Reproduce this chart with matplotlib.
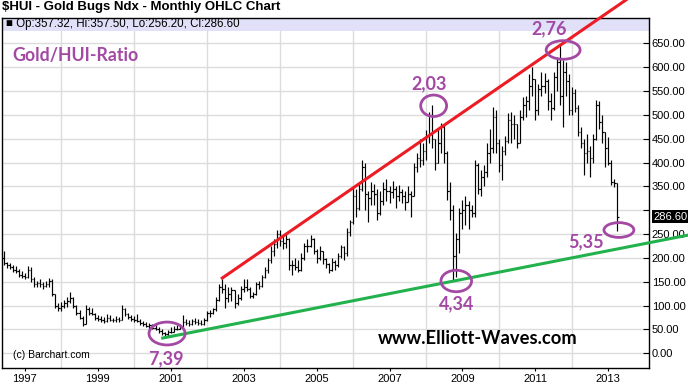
import numpy as np
import pandas as pd
import matplotlib
matplotlib.use("Agg")
import matplotlib.pyplot as plt
import matplotlib.transforms as mtransforms
from matplotlib.patches import Ellipse

# monthly HUI bars, Jun 1996 - Apr 2013 (each open = previous close)
first_open = 200.0
highs = [214, 192, 190, 186, 184, 176, 172,
         168, 183, 180, 160, 152, 155, 150, 152, 158, 155, 125, 105,
         108, 112, 118, 128, 118, 102, 90, 78, 102, 98, 95, 85,
         80, 78, 76, 82, 80, 75, 78, 76, 101, 95, 85, 80,
         78, 82, 72, 68, 66, 64, 62, 60, 56, 50, 45, 48,
         55, 58, 60, 62, 80, 72, 70, 72, 74, 72, 70, 74,
         88, 90, 96, 118, 145, 156, 145, 140, 138, 132, 125, 142,
         156, 155, 138, 128, 150, 152, 165, 180, 200, 225, 240, 258,
         259, 245, 250, 242, 195, 200, 195, 210, 232, 240, 248, 242,
         218, 225, 215, 200, 190, 200, 195, 210, 228, 225, 262, 280,
         348, 345, 355, 405, 400, 340, 360, 355, 345, 340, 360, 365,
         350, 362, 350, 352, 345, 340, 350, 340, 398, 420, 450, 440,
         468, 505, 520, 450, 470, 483, 480, 425, 359, 310, 252, 305,
         321, 330, 320, 310, 405, 400, 385, 395, 440, 470, 516, 510,
         450, 435, 455, 503, 505, 500, 480, 510, 537, 540, 585, 600,
         575, 565, 590, 587, 575, 545, 590, 621, 646, 615, 610, 585,
         558, 555, 520, 475, 450, 460, 435, 460, 531, 528, 500, 465,
         454, 405, 365, 357.50]
lows = [185, 178, 176, 170, 168, 160, 158,
        155, 158, 150, 138, 138, 140, 135, 138, 140, 120, 95, 88,
        88, 95, 98, 105, 95, 80, 72, 58, 62, 80, 80, 70,
        68, 66, 64, 66, 68, 65, 66, 66, 70, 78, 72, 68,
        66, 65, 60, 58, 55, 52, 50, 48, 42, 38, 32, 36,
        42, 45, 48, 50, 56, 60, 58, 60, 62, 60, 59, 60,
        68, 76, 82, 88, 110, 126, 95, 108, 110, 95, 102, 112,
        128, 130, 115, 116, 122, 135, 138, 158, 168, 190, 205, 220,
        225, 218, 220, 175, 165, 175, 170, 172, 195, 212, 222, 208,
        190, 195, 188, 178, 168, 172, 175, 180, 200, 195, 205, 245,
        272, 285, 300, 340, 300, 275, 310, 310, 280, 290, 310, 320,
        315, 325, 305, 320, 315, 300, 318, 285, 330, 380, 390, 395,
        405, 440, 430, 384, 400, 420, 400, 321, 279, 154, 160, 210,
        260, 270, 260, 285, 285, 335, 330, 350, 370, 400, 420, 420,
        380, 363, 415, 440, 440, 450, 430, 440, 490, 495, 510, 540,
        489, 500, 540, 545, 510, 489, 510, 550, 520, 475, 540, 500,
        500, 505, 455, 430, 374, 400, 370, 400, 447, 470, 440, 391,
        395, 352, 349, 256.20]
closes = [190, 185, 182, 175, 172, 165, 162,
          160, 175, 155, 145, 148, 145, 142, 145, 152, 125, 100, 95,
          100, 105, 110, 115, 100, 85, 75, 62, 92, 85, 83, 75,
          72, 70, 68, 75, 70, 70, 72, 70, 92, 82, 76, 72,
          70, 68, 64, 62, 58, 60, 54, 52, 46, 42, 40, 44,
          45, 52, 50, 56, 66, 64, 62, 68, 66, 64, 62, 70,
          84, 85, 92, 112, 140, 135, 115, 125, 132, 105, 115, 135,
          140, 135, 120, 125, 145, 142, 160, 175, 195, 215, 230, 250,
          235, 232, 240, 185, 185, 180, 175, 200, 225, 225, 240, 215,
          200, 215, 198, 188, 175, 192, 185, 205, 222, 210, 255, 275,
          330, 305, 345, 390, 335, 325, 340, 335, 295, 320, 345, 340,
          338, 345, 330, 338, 330, 318, 335, 330, 390, 410, 405, 425,
          455, 500, 450, 400, 440, 475, 420, 340, 300, 205, 240, 295,
          300, 310, 300, 295, 395, 345, 370, 380, 420, 430, 495, 440,
          395, 425, 445, 490, 480, 480, 440, 495, 520, 530, 560, 575,
          510, 555, 560, 570, 530, 515, 580, 610, 540, 590, 570, 510,
          545, 515, 465, 440, 420, 425, 410, 450, 520, 485, 465, 430,
          398, 360, 357.32, 286.60]
last_close = 286.60

# trend lines (year, value)
red_t = [2002.38, 2013.6]
red_v = [156, 747]
green_t = [2000.74, 2015.2]
green_v = [31.4, 248]

# Gold/HUI ratio notes
ratio_labels = ["7,39", "2,03", "4,34", "2,76", "5,35"]
label_pos = [(2000.86, -12), (2008.08, 566), (2008.85, 104), (2011.39, 681), (2012.4, 234)]
ring_pos = [(2000.9, 41.5), (2008.21, 519), (2008.83, 151.6), (2011.76, 636), (2013.29, 258.5)]
ring_size = [(0.99, 48), (0.71, 45), (0.84, 45), (0.93, 39), (0.82, 31)]

purple = "#a349a4"

months = pd.date_range("1996-06-01", "2013-04-01", freq="MS")
t = np.asarray(months.year + (months.month - 1) / 12.0)
opens = [first_open] + closes[:-1]

fig = plt.figure(figsize=(6.88, 3.84), dpi=100)
ax = fig.add_axes([2 / 688, 16 / 384, 647 / 688, 350 / 384])
ax.set_xlim(1996.374, 2014.115)
ax.set_ylim(-30.8, 703)

# grid; the 300 label is covered by the last-price box
yt = np.arange(0, 651, 50)
ax.set_yticks(yt)
ax.set_yticklabels(["" if v == 300 else f"{v:.2f}" for v in yt])
ax.set_xticks(np.arange(1997, 2014, 2))
ax.set_xticks(np.arange(1997, 2014, 1), minor=True)
ax.grid(axis="y", which="major", color="#dcdcdc", lw=1.0, zorder=0)
ax.grid(axis="x", which="minor", color="#dcdcdc", lw=1.0, zorder=0)
ax.set_axisbelow(True)
ax.axhspan(675, 703, color="#e0e0f8", lw=0, zorder=1)

ax.yaxis.tick_right()
ax.tick_params(axis="y", direction="in", length=4, width=0.8, pad=2,
               labelsize=8, labelfontfamily="Liberation Sans")
ax.tick_params(axis="x", which="major", direction="out", length=2, width=0.8, pad=2,
               labelsize=8, labelfontfamily="Liberation Sans")
ax.tick_params(axis="x", which="minor", length=0)
for s in ax.spines.values():
    s.set_linewidth(1.0)

# OHLC bars
w = 0.45 / 12
ax.vlines(t, lows, highs, color="black", lw=0.85, zorder=3)
ax.hlines(opens, t - w, t, color="black", lw=0.85, zorder=3)
ax.hlines(closes, t, t + w, color="black", lw=0.85, zorder=3)

# trend lines
ax.plot(red_t, red_v, color="#ed1c24", lw=2.2, zorder=4, clip_on=False, solid_capstyle="butt")
ax.plot(green_t, green_v, color="#22b14c", lw=2.2, zorder=4, clip_on=False, solid_capstyle="butt")

for lab, (lx, ly), (ex, ey), (ew, eh) in zip(ratio_labels, label_pos, ring_pos, ring_size):
    ax.add_patch(Ellipse((ex, ey), ew, eh, fill=False, edgecolor=purple, lw=2.0,
                         zorder=5, clip_on=False))
    ax.text(lx, ly, lab, color=purple, fontsize=13, fontweight="bold",
            family="Lato", ha="center", va="center", zorder=6)

ax.text(1996.65, 625, "Gold/HUI-Ratio", color=purple, fontsize=12.8, fontweight="bold",
        family="Lato", ha="left", va="center", zorder=6)

# last price box
trans = mtransforms.blended_transform_factory(ax.transAxes, ax.transData)
ax.text(1.007, last_close, f"{last_close:.2f}", transform=trans, color="white",
        fontsize=8, family="Liberation Sans", ha="left", va="center",
        bbox=dict(facecolor="black", edgecolor="none", pad=0.8), zorder=7)

ax.text(0.0065, 690, "\u25a0 Op:357.32, Hi:357.50, Lo:256.20, Cl:286.60",
        transform=trans, fontsize=8.3, family="Liberation Sans",
        ha="left", va="center", zorder=6)

fig.text(2 / 688, 1 - 7 / 384, "$HUI - Gold Bugs Ndx - Monthly OHLC Chart",
         fontsize=9.5, fontweight="bold", family="Liberation Sans", ha="left", va="center")
fig.text(13 / 688, 1 - 355 / 384, "(c) Barchart.com", fontsize=7.5,
         family="Liberation Sans", ha="left", va="center")
fig.text(478 / 688, 1 - 339 / 384, "www.Elliott-Waves.com", fontsize=13.2,
         fontweight="bold", family="Lato", ha="center", va="center")

fig.savefig("out.png", dpi=100)
